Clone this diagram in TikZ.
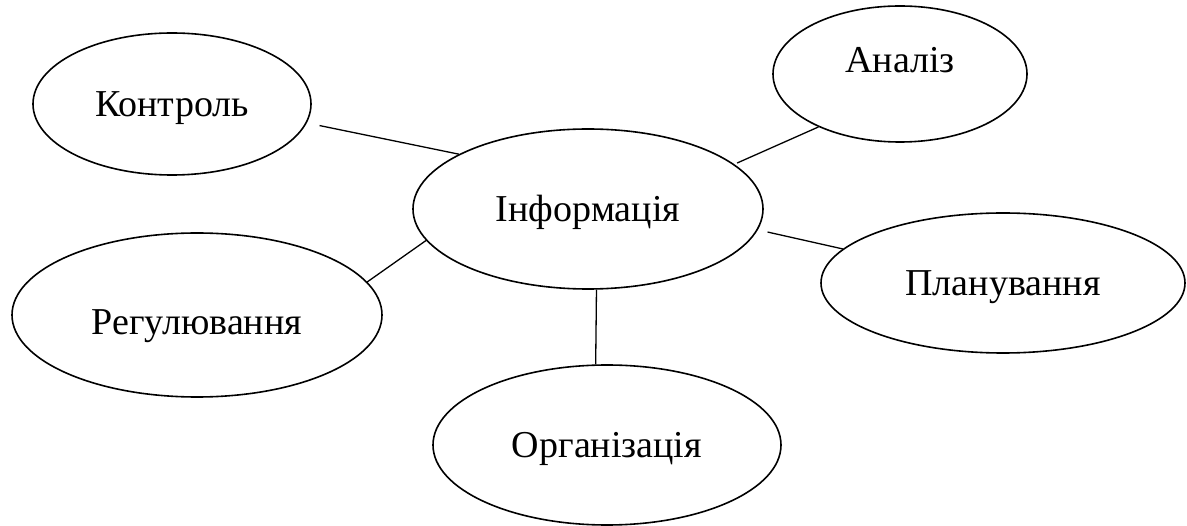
\documentclass[tikz,border=0pt]{standalone}
\usepackage{fontspec}
\setmainfont{Liberation Serif}
\usepackage{tikz}
\usetikzlibrary{shapes.geometric}

\tikzset{
  oval/.style={ellipse,draw,line width=1.6pt,inner sep=0pt,text height=25pt,text depth=0pt,
    font=\fontsize{38}{42}\selectfont},
  link/.style={line width=1.3pt}
}

\begin{document}
\begin{tikzpicture}[x=1pt,y=1pt,yscale=-1,xscale=1]
\useasboundingbox (0,0) rectangle (1187,526);

% Ellipses
\node [oval,minimum width=278pt,minimum height=142pt] (control) at (172,104) {Контроль};
\node [oval,minimum width=254pt,minimum height=136pt,text depth=27pt] (analiz) at (900,74) {Аналіз};
\node [oval,minimum width=350pt,minimum height=160pt] (info) at (588,209) {Інформація};
\node [oval,minimum width=364pt,minimum height=140pt] (plan) at (1003,283) {Планування};
\node [oval,minimum width=370pt,minimum height=164pt,text height=39pt] (regul) at (197,315) {Регулювання};
\node [oval,minimum width=348pt,minimum height=160pt] (org) at (607,445) {Організація};

% Straight Lines
\draw [link,shorten <=13pt] (control.-8) -- (info.157);
\draw [link,shorten <=3pt] (info.17) -- (analiz.-147);
\draw [link,shorten <=10pt] (info.-7) -- (plan.168);
\draw [link] (info.191) -- (regul.11);
\draw [link] (info.-84) -- (org.98);

\end{tikzpicture}
\end{document}
